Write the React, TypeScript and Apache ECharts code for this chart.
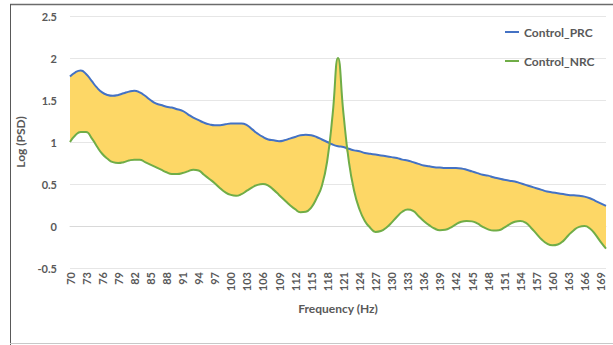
import React, { useEffect, useRef } from "react";
import * as echarts from "echarts";

const frequencies: string[] = [];
for (let f = 70; f <= 170; f++) frequencies.push(String(f));

const controlPRC: number[] = [
  1.78, 1.83, 1.85, 1.81, 1.73, 1.65, 1.59, 1.56, 1.55, 1.56,
  1.58, 1.60, 1.61, 1.59, 1.55, 1.50, 1.46, 1.44, 1.42, 1.41,
  1.39, 1.37, 1.33, 1.29, 1.26, 1.23, 1.21, 1.20, 1.20, 1.21,
  1.22, 1.22, 1.22, 1.20, 1.15, 1.10, 1.06, 1.03, 1.02, 1.01,
  1.02, 1.04, 1.06, 1.08, 1.085, 1.08, 1.06, 1.03, 1.00, 0.97,
  0.95, 0.94, 0.92, 0.90, 0.89, 0.87, 0.86, 0.85, 0.84, 0.83,
  0.82, 0.81, 0.79, 0.78, 0.76, 0.74, 0.72, 0.71, 0.70, 0.695,
  0.69, 0.69, 0.69, 0.685, 0.67, 0.65, 0.63, 0.61, 0.60, 0.58,
  0.565, 0.55, 0.54, 0.53, 0.51, 0.49, 0.47, 0.45, 0.43, 0.41,
  0.40, 0.39, 0.38, 0.37, 0.365, 0.36, 0.35, 0.33, 0.30, 0.27,
  0.24,
];

const controlNRC: number[] = [
  1.00, 1.08, 1.12, 1.12, 1.05, 0.95, 0.86, 0.80, 0.76, 0.75,
  0.76, 0.78, 0.79, 0.79, 0.76, 0.73, 0.70, 0.67, 0.64, 0.62,
  0.62, 0.63, 0.65, 0.67, 0.66, 0.61, 0.56, 0.51, 0.45, 0.40,
  0.37, 0.36, 0.38, 0.42, 0.46, 0.49, 0.50, 0.48, 0.43, 0.37,
  0.31, 0.25, 0.20, 0.165, 0.17, 0.22, 0.33, 0.48, 0.78, 1.33,
  2.00, 1.35, 0.78, 0.42, 0.20, 0.06, -0.02, -0.07, -0.06, -0.02,
  0.04, 0.11, 0.17, 0.195, 0.18, 0.12, 0.06, 0.01, -0.03, -0.05,
  -0.045, -0.02, 0.02, 0.05, 0.06, 0.055, 0.03, -0.01, -0.04, -0.055,
  -0.05, -0.02, 0.02, 0.05, 0.06, 0.04, -0.02, -0.09, -0.16, -0.21,
  -0.23, -0.22, -0.18, -0.11, -0.05, -0.01, 0.00, -0.03, -0.10, -0.19,
  -0.27,
];

const yTicks = { min: -0.5, max: 2.5, interval: 0.5 };

const FONT = "Lato";
const TEXT_COLOR = "#595959";

export default function App() {
  const ref = useRef<HTMLDivElement>(null);

  useEffect(() => {
    if (!ref.current) return;
    const chart = echarts.init(ref.current, null, { renderer: "svg" });

    const lower = controlPRC.map((v, i) => Math.min(v, controlNRC[i]));
    const band = controlPRC.map((v, i) => Math.abs(v - controlNRC[i]));

    chart.setOption({
      animation: false,
      backgroundColor: "#ffffff",
      textStyle: { fontFamily: FONT },
      grid: { left: 70, right: 7, top: 16, bottom: 77 },
      legend: {
        orient: "vertical",
        left: 500,
        top: 21,
        itemGap: 17,
        itemWidth: 14,
        itemHeight: 2,
        icon: "rect",
        textStyle: { color: TEXT_COLOR, fontSize: 12, fontWeight: "bold", fontFamily: FONT },
        data: ["Control_PRC", "Control_NRC"],
      },
      xAxis: {
        type: "category",
        data: frequencies,
        boundaryGap: false,
        name: "Frequency (Hz)",
        nameLocation: "middle",
        nameGap: 34,
        nameTextStyle: { color: TEXT_COLOR, fontSize: 12, fontWeight: "bold", fontFamily: FONT },
        axisLine: { show: true, lineStyle: { color: "#d9d9d9", width: 1 } },
        axisTick: { show: false },
        axisLabel: {
          interval: 2,
          rotate: 90,
          margin: 4,
          color: TEXT_COLOR,
          fontSize: 11,
          fontWeight: "bold",
          fontFamily: FONT,
        },
        splitLine: { show: false },
      },
      yAxis: {
        type: "value",
        min: yTicks.min,
        max: yTicks.max,
        interval: yTicks.interval,
        name: "Log (PSD)",
        nameLocation: "middle",
        nameGap: 29,
        nameRotate: 90,
        nameTextStyle: { color: TEXT_COLOR, fontSize: 12, fontWeight: "bold", fontFamily: FONT },
        axisLine: { show: false },
        axisTick: { show: false },
        axisLabel: { margin: 13, color: TEXT_COLOR, fontSize: 11, fontWeight: "bold", fontFamily: FONT },
        splitLine: { show: true, lineStyle: { color: "#e6e6e6", width: 1 } },
      },
      series: [
        {
          type: "line",
          data: lower,
          stack: "fill",
          stackStrategy: "all",
          smooth: true,
          symbol: "none",
          lineStyle: { width: 0, opacity: 0 },
          areaStyle: { opacity: 0 },
          silent: true,
          z: 1,
        },
        {
          type: "line",
          data: band,
          stack: "fill",
          stackStrategy: "all",
          smooth: true,
          symbol: "none",
          lineStyle: { width: 0, opacity: 0 },
          areaStyle: { color: "#FDD766", opacity: 1 },
          silent: true,
          z: 1,
        },
        {
          name: "Control_PRC",
          type: "line",
          data: controlPRC,
          smooth: true,
          symbol: "none",
          itemStyle: { color: "#4472C4" },
          lineStyle: { color: "#4472C4", width: 2 },
          z: 3,
        },
        {
          name: "Control_NRC",
          type: "line",
          data: controlNRC,
          smooth: true,
          symbol: "none",
          itemStyle: { color: "#70AD47" },
          lineStyle: { color: "#70AD47", width: 2 },
          z: 4,
        },
      ],
      graphic: [
        { type: "line", shape: { x1: 10, y1: 4.5, x2: 613, y2: 4.5 }, style: { stroke: "#6b6b6b", lineWidth: 1.5 } },
        { type: "line", shape: { x1: 10.5, y1: 4, x2: 10.5, y2: 345 }, style: { stroke: "#595959", lineWidth: 1 } },
        { type: "line", shape: { x1: 10, y1: 343.5, x2: 613, y2: 343.5 }, style: { stroke: "#c8c8c8", lineWidth: 1 } },
      ],
    });

    return () => chart.dispose();
  }, []);

  return (
    <div
      ref={ref}
      style={{ position: "fixed", left: 0, top: 0, width: 613, height: 345 }}
    />
  );
}
